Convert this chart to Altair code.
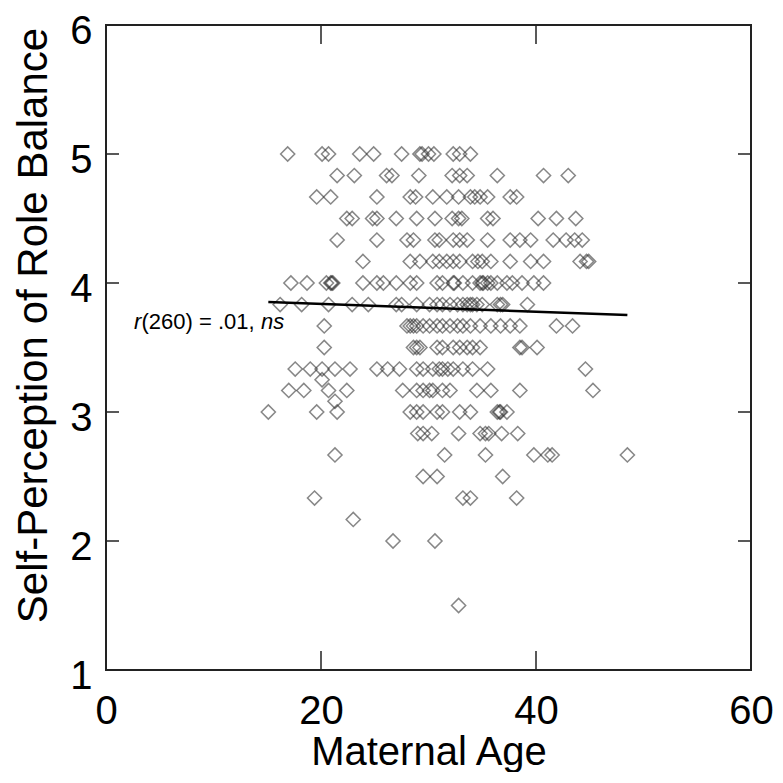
import altair as alt
import pandas as pd

# --- data: mothers' ages at each role-balance score ---
row_5_00 = [16.9, 20.1, 20.7, 23.6, 24.9, 27.5, 29.2, 29.4, 30.0, 30.5, 32.3, 32.9, 33.9]
row_4_83 = [21.5, 23.1, 26.1, 26.6, 29.1, 32.2, 32.9, 33.6, 36.4, 40.7, 43.0]
row_4_67 = [19.6, 20.9, 25.2, 28.3, 28.8, 30.4, 31.7, 32.8, 33.9, 34.3, 34.8, 35.5, 37.6, 38.2]
row_4_50 = [22.4, 22.9, 24.8, 25.2, 27.0, 28.9, 30.6, 32.2, 32.8, 33.1, 35.5, 36.0, 40.2, 41.9, 43.7]
row_4_33 = [21.5, 25.2, 28.0, 28.6, 30.6, 31.0, 32.3, 32.9, 33.6, 35.5, 37.6, 38.5, 39.5, 41.6, 42.8,
            43.6, 44.3]
row_4_17 = [23.9, 28.3, 29.2, 30.4, 31.0, 31.7, 32.3, 32.9, 34.1, 34.6, 35.0, 35.8, 37.6, 39.5, 40.7,
            44.1, 44.7, 44.9]
row_4_00 = [17.2, 18.7, 20.5, 20.9, 21.0, 21.1, 23.9, 25.2, 25.8, 27.0, 28.3, 28.9, 30.8, 31.3, 32.3,
            32.4, 33.2, 34.1, 34.8, 35.0, 35.1, 35.5, 35.8, 36.4, 37.3, 37.8, 38.7, 39.8, 40.7]
row_3_83 = [16.2, 18.2, 20.7, 22.9, 24.4, 27.0, 27.5, 28.9, 30.1, 30.8, 31.3, 32.0, 32.7, 33.2, 33.6,
            33.9, 34.1, 34.5, 35.0, 36.4, 36.7, 36.9, 39.2]
row_3_67 = [20.3, 28.0, 28.3, 28.6, 28.9, 29.5, 30.1, 30.8, 31.3, 32.0, 32.7, 33.2, 33.9, 34.8, 35.8,
            36.7, 37.6, 38.5, 41.9, 43.4]
row_3_50 = [20.3, 28.6, 28.9, 29.2, 30.8, 31.3, 32.3, 32.9, 33.6, 34.1, 34.8, 38.5, 38.7, 40.1]
row_3_33 = [17.6, 19.0, 20.1, 21.3, 22.7, 25.2, 26.2, 27.3, 28.9, 29.5, 30.4, 31.0, 31.3, 31.8, 32.3,
            33.2, 34.1, 35.5, 44.6]
row_3_25 = [20.1]
row_3_17 = [17.0, 18.4, 20.7, 22.4, 27.6, 28.9, 29.5, 30.1, 30.4, 31.3, 32.0, 34.5, 35.8, 38.5, 45.3]
row_3_08 = [21.3]
row_3_00 = [15.1, 19.6, 21.5, 28.3, 28.9, 29.5, 30.8, 31.3, 32.9, 33.9, 36.4, 36.6, 36.7, 37.3]
row_2_83 = [29.0, 29.5, 30.3, 32.8, 34.8, 35.3, 35.6, 36.8, 38.3]
row_2_67 = [21.3, 31.5, 35.3, 39.8, 41.1, 41.5, 48.5]
row_2_50 = [29.5, 30.8, 36.9]
row_2_33 = [19.4, 33.2, 33.9, 38.2]
row_2_17 = [23.0]
row_2_00 = [26.7, 30.6]
row_1_50 = [32.8]

score_levels = [5.0, 4.833, 4.667, 4.5, 4.333, 4.167, 4.0, 3.833, 3.667, 3.5, 3.333, 3.25, 3.167, 3.083,
                3.0, 2.833, 2.667, 2.5, 2.333, 2.167, 2.0, 1.5]
age_rows = [row_5_00, row_4_83, row_4_67, row_4_50, row_4_33, row_4_17, row_4_00, row_3_83, row_3_67,
            row_3_50, row_3_33, row_3_25, row_3_17, row_3_08, row_3_00, row_2_83, row_2_67, row_2_50,
            row_2_33, row_2_17, row_2_00, row_1_50]

# regression line end points
line_age = [15.1, 48.5]
line_score = [3.853, 3.752]

x_tick_values = [0, 20, 40, 60]
y_tick_values = [1, 2, 3, 4, 5, 6]
inner_x_ticks = [20, 40]
inner_y_ticks = [2, 3, 4, 5]

note_age = [2.6]
note_score = [3.70]

# --- build tables ---
ages, scores = [], []
for s, row in zip(score_levels, age_rows):
    for a in row:
        ages.append(a)
        scores.append(s)
pts = pd.DataFrame({"age": ages, "score": scores})
line_df = pd.DataFrame({"age": line_age, "score": line_score})
xt = pd.DataFrame({"age": inner_x_ticks})
yt = pd.DataFrame({"score": inner_y_ticks})
note = pd.DataFrame({"age": note_age, "score": note_score})

W, H = 645, 645
FONT = "Liberation Sans"

xscale = alt.Scale(domain=[0, 60], nice=False, zero=False)
yscale = alt.Scale(domain=[1, 6], nice=False, zero=False)

x_axis = alt.Axis(values=x_tick_values, format="d", ticks=False, tickSize=0, domain=False, grid=False,
                  labelFlush=False, labelPadding=21, labelFontSize=40, labelFont=FONT,
                  labelColor="black", title="Maternal Age", titleFontSize=40, titleFont=FONT,
                  titleFontWeight="normal", titleColor="black", titleY=94,
                  titleBaseline="alphabetic")
y_axis = alt.Axis(values=y_tick_values, format="d", ticks=False, tickSize=0, domain=False, grid=False,
                  labelFlush=False, labelPadding=14, labelOffset=6, labelFontSize=40, labelFont=FONT,
                  labelColor="black", title="Self-Perception of Role Balance", titleFontSize=42,
                  titleFont=FONT, titleFontWeight="normal", titleColor="black",
                  titleX=-73, titleY=300, titleAngle=-90, titleAlign="center",
                  titleBaseline="middle")

points = alt.Chart(pts).mark_point(shape="diamond", filled=False, size=200, stroke="#2a2a2a",
                                   strokeWidth=1.5, strokeOpacity=0.8).encode(
    x=alt.X("age:Q", scale=xscale, axis=x_axis),
    y=alt.Y("score:Q", scale=yscale, axis=y_axis),
)

reg = alt.Chart(line_df).mark_line(color="black", strokeWidth=2.5).encode(
    x=alt.X("age:Q", scale=xscale),
    y=alt.Y("score:Q", scale=yscale),
)

TICK_COLOR = "#222222"
bt = alt.Chart(xt).mark_rule(color=TICK_COLOR, strokeWidth=1.5).encode(
    x=alt.X("age:Q", scale=xscale), y=alt.value(H), y2=alt.value(H - 19))
tt = alt.Chart(xt).mark_rule(color=TICK_COLOR, strokeWidth=1.5).encode(
    x=alt.X("age:Q", scale=xscale), y=alt.value(0), y2=alt.value(19))
lt = alt.Chart(yt).mark_rule(color=TICK_COLOR, strokeWidth=1.5).encode(
    y=alt.Y("score:Q", scale=yscale), x=alt.value(0), x2=alt.value(13))
rt = alt.Chart(yt).mark_rule(color=TICK_COLOR, strokeWidth=1.5).encode(
    y=alt.Y("score:Q", scale=yscale), x=alt.value(W), x2=alt.value(W - 13))

enc = dict(x=alt.X("age:Q", scale=xscale), y=alt.Y("score:Q", scale=yscale))
t1 = alt.Chart(note).mark_text(text="r", align="left", baseline="middle", fontSize=22, font=FONT,
                               fontStyle="italic", color="black").encode(**enc)
t2 = alt.Chart(note).mark_text(text="(260) = .01,", align="left", baseline="middle", fontSize=22,
                               font=FONT, color="black", dx=7.5).encode(**enc)
t3 = alt.Chart(note).mark_text(text="ns", align="left", baseline="middle", fontSize=22, font=FONT,
                               fontStyle="italic", color="black", dx=127).encode(**enc)

chart = alt.layer(points, reg, bt, tt, lt, rt, t1, t2, t3).properties(
    width=W, height=H,
    autosize=alt.AutoSizeParams(type="none"),
    padding={"left": 98, "top": 17, "right": 24, "bottom": 102},
    background="white",
).configure_view(stroke="#222222", strokeWidth=2)

chart.save("out.html", embed_options={"renderer": "svg", "actions": False})
